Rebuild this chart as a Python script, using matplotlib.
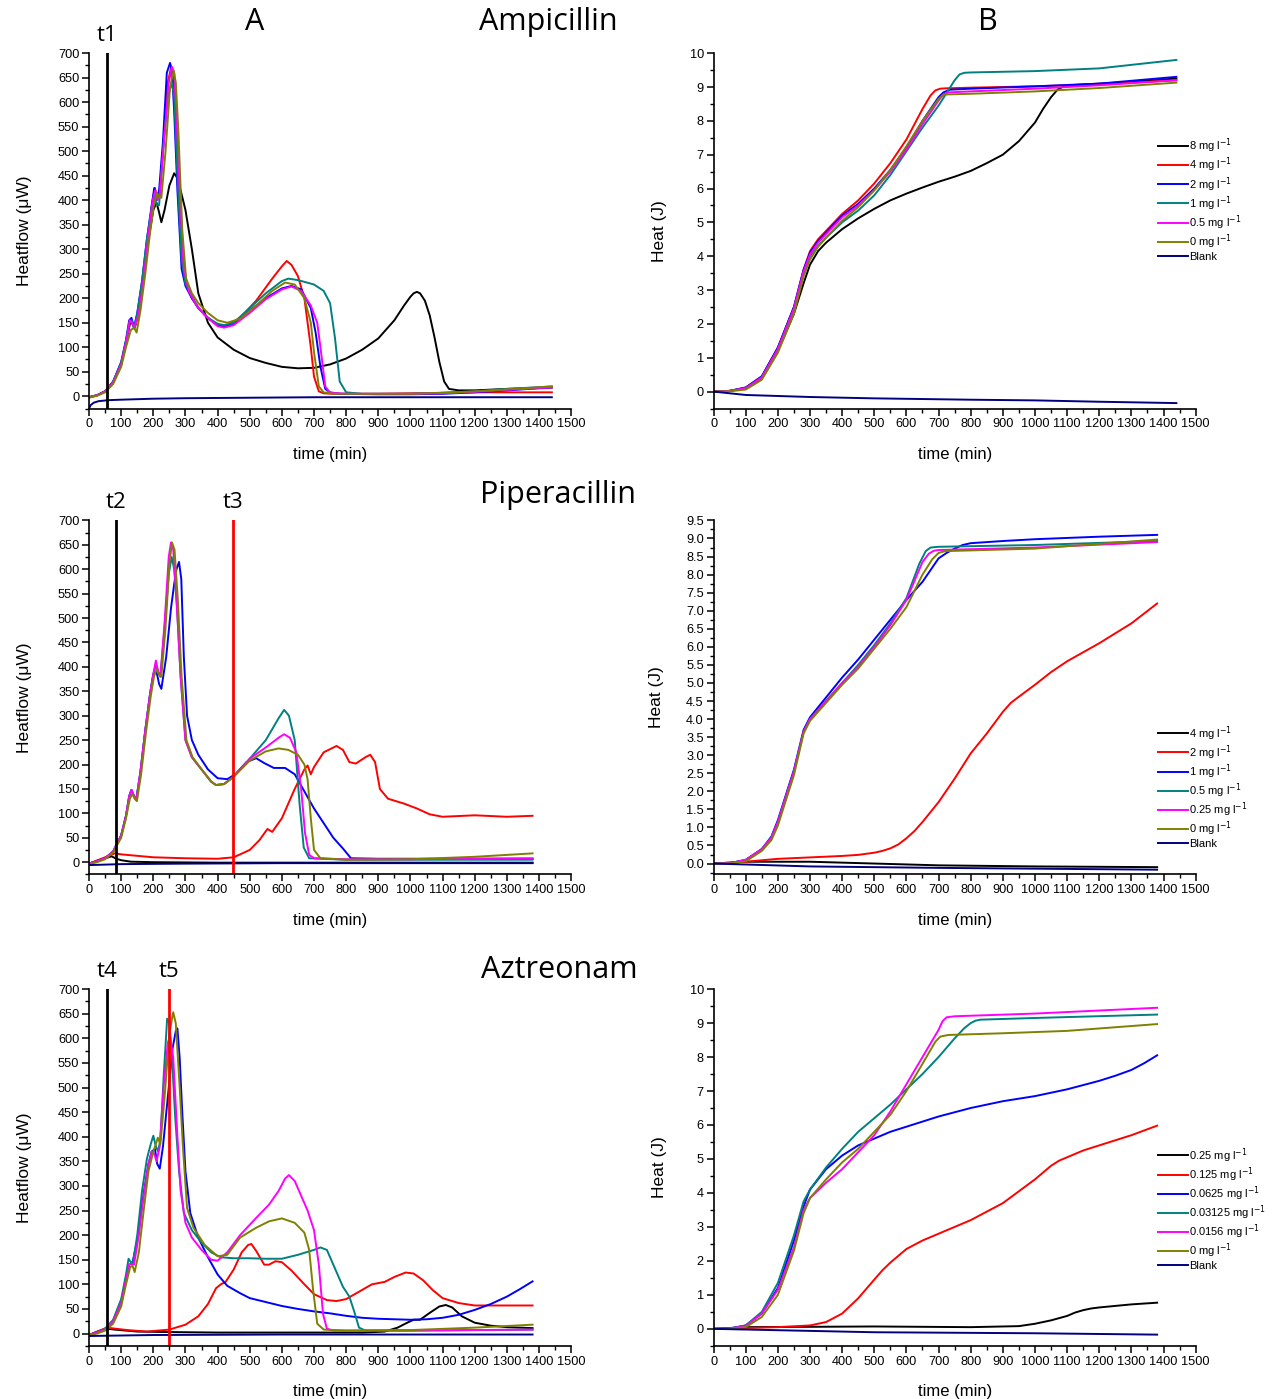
import matplotlib
matplotlib.use("Agg")
import matplotlib.pyplot as plt
from matplotlib.ticker import MultipleLocator, FormatStrFormatter

plt.rcParams['font.family'] = ['Liberation Sans', 'DejaVu Sans']

# ---------------- colours / labels ----------------
COLORS = ['#000000', '#ff0000', '#0000ff', '#008080', '#ff00ff', '#808000', '#000080']
AMP_LABELS = ['8 mg l$^{-1}$', '4 mg l$^{-1}$', '2 mg l$^{-1}$', '1 mg l$^{-1}$',
              '0.5 mg l$^{-1}$', '0 mg l$^{-1}$', 'Blank']
PIP_LABELS = ['4 mg l$^{-1}$', '2 mg l$^{-1}$', '1 mg l$^{-1}$', '0.5 mg l$^{-1}$',
              '0.25 mg l$^{-1}$', '0 mg l$^{-1}$', 'Blank']
AZT_LABELS = ['0.25 mg l$^{-1}$', '0.125 mg l$^{-1}$', '0.0625 mg l$^{-1}$',
              '0.03125 mg l$^{-1}$', '0.0156 mg l$^{-1}$', '0 mg l$^{-1}$', 'Blank']

# ---------------- Ampicillin heatflow (uW) ----------------
amp_hf_black_t = [0,25,50,75,100,115,128,135,142,155,170,185,200,210,218,225,235,250,265,275,285,300,320,340,370,400,450,500,550,600,650,700,750,800,850,900,950,980,1000,1010,1020,1030,1045,1060,1075,1090,1105,1120,1150,1200,1300,1440]
amp_hf_black_y = [-2,2,10,28,65,110,150,148,140,170,240,320,380,395,375,355,380,430,455,445,420,380,300,210,150,120,95,78,68,60,57,58,65,77,95,118,155,185,203,210,213,210,195,165,120,70,30,15,12,12,15,18]
amp_hf_red_t = [0,25,50,75,100,115,128,135,142,155,170,185,197,205,212,220,232,245,255,262,270,280,292,305,320,340,370,400,430,470,520,570,600,615,630,650,670,690,700,715,730,760,800,900,1000,1100,1200,1300,1440]
amp_hf_red_y = [-2,2,10,28,65,110,155,150,140,175,250,330,395,425,405,415,520,640,670,660,590,430,280,225,200,180,160,145,145,160,195,240,265,276,268,245,200,100,40,10,6,5,5,5,6,7,8,8,8]
amp_hf_blue_t = [0,25,50,75,100,115,125,132,140,150,165,180,195,203,210,218,230,242,252,258,265,275,288,300,320,340,370,400,420,450,500,550,600,630,660,690,705,720,735,750,780,900,1000,1100,1200,1300,1440]
amp_hf_blue_y = [-2,2,10,30,70,115,155,160,140,170,235,320,390,425,400,420,520,660,680,665,580,420,260,225,200,180,160,145,142,148,175,200,220,225,218,180,130,60,15,8,5,4,4,5,8,12,18]
amp_hf_teal_t = [0,25,50,75,100,115,125,132,140,150,165,180,195,203,210,218,230,245,258,265,275,288,300,320,340,370,400,420,450,500,550,600,620,650,700,730,750,765,780,800,850,900,1000,1100,1200,1300,1440]
amp_hf_teal_y = [-2,2,10,30,68,112,150,155,138,168,235,320,385,410,390,390,500,610,640,610,450,280,230,205,180,160,148,145,150,180,210,235,240,237,228,215,190,120,30,8,5,5,5,7,10,15,20]
amp_hf_mag_t = [0,25,50,75,100,115,127,134,142,155,170,185,198,206,213,220,232,248,258,265,272,282,295,310,330,360,400,420,450,500,550,600,630,660,690,710,720,735,750,800,900,1000,1100,1200,1300,1440]
amp_hf_mag_y = [-2,2,10,28,65,110,155,150,140,170,240,330,400,420,400,410,510,640,672,660,580,420,260,215,190,165,143,140,145,170,198,218,224,215,185,150,100,20,7,5,5,5,6,9,13,18]
amp_hf_olive_t = [0,25,50,75,100,115,130,140,148,160,175,190,203,212,218,225,238,252,263,270,278,290,302,320,340,370,400,430,470,520,570,610,640,670,690,700,715,730,760,900,1000,1100,1200,1300,1440]
amp_hf_olive_y = [-3,1,8,25,60,100,135,140,130,175,250,335,395,415,405,405,500,630,665,640,540,340,240,210,190,170,155,150,158,185,215,232,228,200,150,90,20,8,5,5,5,7,10,14,20]
amp_hf_blank_t = [0,5,15,30,60,100,200,300,500,700,1000,1200,1440]
amp_hf_blank_y = [-25,-18,-13,-10,-8,-7,-5,-4,-3,-2,-2,-2,-2]

# ---------------- Ampicillin heat (J) ----------------
amp_h_black_t = [0,50,100,150,200,250,280,300,325,350,400,450,500,550,600,650,700,750,800,850,900,950,1000,1025,1050,1070,1085,1100,1200,1300,1440]
amp_h_black_y = [0,0.02,0.1,0.4,1.2,2.3,3.2,3.75,4.15,4.4,4.8,5.12,5.4,5.65,5.85,6.03,6.2,6.35,6.52,6.75,7.0,7.4,7.95,8.35,8.7,8.92,9.0,9.05,9.1,9.15,9.25]
amp_h_red_t = [0,50,100,150,200,250,280,300,325,350,400,450,500,550,600,650,675,690,705,720,800,1000,1200,1440]
amp_h_red_y = [0,0.02,0.12,0.45,1.3,2.5,3.6,4.15,4.5,4.75,5.25,5.65,6.15,6.75,7.45,8.35,8.75,8.9,8.95,8.96,8.98,9.02,9.08,9.2]
amp_h_blue_t = [0,50,100,150,200,250,280,300,325,350,400,450,500,550,600,650,700,715,735,800,1000,1200,1440]
amp_h_blue_y = [0,0.02,0.12,0.45,1.3,2.5,3.6,4.1,4.45,4.7,5.2,5.55,6.0,6.55,7.2,8.0,8.7,8.84,8.92,8.95,9.02,9.1,9.3]
amp_h_teal_t = [0,50,100,150,200,250,280,300,325,350,400,450,500,550,600,650,700,730,750,765,780,800,1000,1200,1440]
amp_h_teal_y = [0,0.02,0.1,0.42,1.25,2.45,3.5,4.0,4.3,4.55,5.0,5.35,5.8,6.4,7.1,7.8,8.45,8.9,9.2,9.37,9.42,9.43,9.47,9.55,9.8]
amp_h_mag_t = [0,50,100,150,200,250,280,300,325,350,400,450,500,550,600,650,700,715,730,800,1000,1200,1440]
amp_h_mag_y = [0,0.02,0.1,0.42,1.25,2.45,3.55,4.05,4.4,4.65,5.15,5.5,5.95,6.5,7.15,7.9,8.6,8.78,8.84,8.87,8.95,9.05,9.2]
amp_h_olive_t = [0,50,100,150,200,250,280,300,325,350,400,450,500,550,600,650,700,712,725,800,1000,1200,1440]
amp_h_olive_y = [0,0.01,0.06,0.35,1.15,2.3,3.4,3.9,4.28,4.55,5.05,5.45,5.95,6.55,7.25,8.0,8.65,8.75,8.78,8.8,8.87,8.97,9.13]
amp_h_blank_t = [0,100,300,500,800,1000,1200,1440]
amp_h_blank_y = [0,-0.1,-0.16,-0.2,-0.24,-0.26,-0.3,-0.34]

# ---------------- Piperacillin heatflow (uW) ----------------
pip_hf_black_t = [0,30,55,70,85,100,130,200,400,1380]
pip_hf_black_y = [-3,4,9,12,7,4,1,0,-1,-1]
pip_hf_red_t = [0,50,80,100,200,300,400,450,500,530,555,570,600,640,670,680,690,700,730,770,790,810,830,860,875,890,905,930,980,1020,1060,1100,1200,1300,1380]
pip_hf_red_y = [-3,10,18,16,10,8,7,10,25,45,68,62,90,150,190,198,180,195,225,238,230,205,202,215,220,205,150,130,120,110,98,93,96,93,95]
pip_hf_blue_t = [0,25,50,75,100,115,125,132,140,147,160,175,190,200,210,218,225,240,255,265,272,280,287,295,305,320,340,370,400,430,455,490,520,545,575,610,640,670,700,730,760,790,815,900,1380]
pip_hf_blue_y = [-3,2,8,22,55,95,135,148,135,128,185,270,345,385,390,365,355,420,520,570,600,615,580,420,300,250,220,190,172,170,180,205,213,203,193,193,180,145,110,80,50,28,8,7,7]
pip_hf_teal_t = [0,25,50,75,100,115,125,132,140,147,160,175,190,200,208,215,222,235,248,257,265,274,285,300,320,350,380,395,420,450,500,550,590,607,622,640,655,668,685,800,1380]
pip_hf_teal_y = [-3,2,8,22,55,95,135,148,135,128,185,270,345,385,405,390,380,480,590,625,600,520,380,250,215,190,165,158,160,175,212,250,295,312,300,250,120,30,8,5,5]
pip_hf_mag_t = [0,25,50,75,100,115,125,132,140,147,160,175,190,200,208,215,222,235,248,255,262,272,285,300,320,350,380,395,420,450,500,550,590,607,625,645,660,672,685,700,800,1000,1380]
pip_hf_mag_y = [-3,2,8,22,55,95,135,148,135,128,185,270,345,385,413,390,380,490,625,655,640,540,380,250,215,190,165,158,160,175,212,235,255,262,255,225,150,60,15,8,6,6,8]
pip_hf_olive_t = [0,25,50,75,100,115,127,135,142,149,162,177,192,202,210,217,225,238,250,258,266,276,288,303,322,350,380,395,420,450,500,550,590,620,650,670,680,690,700,720,800,1000,1200,1380]
pip_hf_olive_y = [-4,0,6,20,50,90,130,140,130,125,180,265,340,380,395,385,380,480,610,655,640,540,380,250,215,190,165,158,160,175,208,227,233,230,220,200,170,90,25,8,5,6,11,18]
pip_hf_blank_t = [0,100,300,600,1380]
pip_hf_blank_y = [-6,-4,-3,-2,-2]

# ---------------- Piperacillin heat (J) ----------------
pip_h_black_t = [0,100,300,500,700,1000,1380]
pip_h_black_y = [0,0.05,0.05,0.0,-0.05,-0.08,-0.1]
pip_h_red_t = [0,100,200,300,400,450,500,525,550,575,600,625,650,700,750,800,850,900,925,950,1000,1050,1100,1200,1300,1380]
pip_h_red_y = [0,0.05,0.13,0.17,0.21,0.24,0.3,0.35,0.42,0.53,0.7,0.9,1.15,1.7,2.35,3.05,3.6,4.2,4.45,4.62,4.95,5.3,5.6,6.1,6.65,7.2]
pip_h_blue_t = [0,50,100,150,180,200,250,280,300,350,400,450,500,550,600,650,700,725,750,775,800,900,1000,1200,1380]
pip_h_blue_y = [0,0.01,0.1,0.4,0.75,1.2,2.6,3.7,4.05,4.6,5.15,5.65,6.2,6.75,7.3,7.8,8.45,8.6,8.72,8.82,8.87,8.93,8.98,9.05,9.1]
pip_h_teal_t = [0,50,100,150,180,200,250,280,300,350,400,450,500,550,600,640,660,675,700,1000,1380]
pip_h_teal_y = [0,0.01,0.1,0.4,0.72,1.15,2.55,3.65,4.0,4.5,5.0,5.5,6.05,6.65,7.35,8.3,8.65,8.75,8.77,8.82,8.93]
pip_h_mag_t = [0,50,100,150,180,200,250,280,300,350,400,450,500,550,600,650,670,685,700,1000,1380]
pip_h_mag_y = [0,0.01,0.1,0.4,0.72,1.15,2.55,3.65,4.0,4.5,5.0,5.45,6.0,6.6,7.3,8.35,8.58,8.66,8.68,8.75,8.9]
pip_h_olive_t = [0,50,100,150,180,200,250,280,300,350,400,450,500,550,600,650,680,700,720,1000,1380]
pip_h_olive_y = [0,0.0,0.06,0.35,0.65,1.05,2.45,3.6,3.95,4.45,4.95,5.4,5.95,6.5,7.1,8.0,8.42,8.6,8.65,8.72,8.97]
pip_h_blank_t = [0,300,700,1380]
pip_h_blank_y = [0,-0.08,-0.12,-0.17]

# ---------------- Aztreonam heatflow (uW) ----------------
azt_hf_black_t = [0,30,55,80,150,250,400,700,850,920,960,990,1010,1030,1060,1090,1110,1130,1160,1200,1250,1300,1380]
azt_hf_black_y = [-3,5,10,8,4,3,2,2,2,4,12,22,28,28,42,55,58,53,35,22,16,13,11]
azt_hf_red_t = [0,30,55,80,120,180,250,300,340,370,395,410,425,450,475,495,505,520,545,560,580,600,630,670,700,740,770,800,840,880,920,950,985,1010,1040,1070,1100,1150,1200,1300,1380]
azt_hf_red_y = [-3,5,12,10,7,4,8,18,35,60,92,100,105,130,165,180,182,168,140,140,147,145,128,100,80,68,66,70,85,100,105,115,124,122,108,88,72,62,57,57,57]
azt_hf_blue_t = [0,25,50,75,100,115,125,135,150,170,185,195,205,212,220,230,245,260,270,275,282,290,300,315,340,370,400,430,470,500,550,600,650,700,750,800,850,900,1000,1050,1100,1150,1200,1250,1300,1340,1380]
azt_hf_blue_y = [-3,2,9,26,65,110,140,143,190,285,345,370,375,345,335,380,480,580,615,620,560,450,330,245,195,155,120,97,82,72,64,56,50,45,41,36,32,30,28,29,32,38,48,60,75,90,106]
azt_hf_teal_t = [0,25,50,75,100,115,123,130,137,150,165,180,192,200,208,215,222,232,243,250,258,268,280,295,320,350,380,410,450,500,550,600,650,700,720,740,760,790,810,825,840,860,1000,1380]
azt_hf_teal_y = [-3,2,10,28,70,120,152,145,145,200,290,355,385,402,380,370,395,520,640,630,560,440,330,245,210,185,165,155,153,153,152,152,160,170,175,170,140,95,75,45,12,6,6,8]
azt_hf_mag_t = [0,25,50,75,100,115,125,132,140,155,170,185,195,203,210,220,232,245,252,262,275,285,300,320,350,380,400,430,470,520,560,590,610,622,640,660,680,700,715,728,740,760,1000,1380]
azt_hf_mag_y = [-3,2,8,25,62,110,140,142,140,200,280,345,370,365,350,380,500,590,605,560,400,290,225,195,170,150,148,165,200,235,262,290,315,322,310,280,250,210,140,40,10,6,6,8]
azt_hf_olive_t = [0,25,50,75,100,115,128,135,142,155,170,185,200,208,214,222,235,250,262,270,282,292,305,325,360,400,430,470,520,560,600,640,670,685,697,710,730,800,1000,1200,1380]
azt_hf_olive_y = [-4,0,6,20,55,100,135,138,125,165,250,330,370,385,398,385,480,610,653,630,500,380,255,215,180,157,160,195,215,228,234,225,205,170,90,20,8,6,7,12,18]
azt_hf_blank_t = [0,200,600,1380]
azt_hf_blank_y = [-5,-3,-2,-2]

# ---------------- Aztreonam heat (J) ----------------
azt_h_black_t = [0,100,500,800,950,1000,1050,1100,1125,1150,1175,1200,1300,1380]
azt_h_black_y = [0,0.05,0.07,0.05,0.08,0.15,0.25,0.38,0.48,0.55,0.6,0.63,0.72,0.77]
azt_h_red_t = [0,200,300,350,400,450,500,525,550,600,650,700,750,800,850,900,950,1000,1050,1075,1100,1150,1200,1300,1380]
azt_h_red_y = [0,0.05,0.1,0.2,0.45,0.9,1.45,1.72,1.95,2.35,2.6,2.8,3.0,3.2,3.45,3.7,4.05,4.4,4.8,4.95,5.05,5.25,5.4,5.7,5.98]
azt_h_blue_t = [0,50,100,150,200,250,280,300,350,400,450,500,550,600,700,800,900,1000,1100,1200,1250,1300,1340,1380]
azt_h_blue_y = [0,0.01,0.1,0.45,1.2,2.6,3.6,4.1,4.7,5.1,5.4,5.6,5.8,5.95,6.25,6.5,6.7,6.85,7.05,7.3,7.45,7.62,7.82,8.05]
azt_h_teal_t = [0,50,100,150,200,250,280,300,350,400,450,500,550,600,650,700,750,780,800,815,830,1000,1380]
azt_h_teal_y = [0,0.01,0.1,0.5,1.35,2.75,3.75,4.1,4.75,5.3,5.8,6.2,6.6,7.05,7.5,8.0,8.55,8.85,9.0,9.07,9.1,9.15,9.25]
azt_h_mag_t = [0,50,100,150,200,250,280,300,350,400,450,500,550,600,650,700,712,725,750,1000,1380]
azt_h_mag_y = [0,0.01,0.08,0.45,1.15,2.4,3.5,3.85,4.3,4.7,5.2,5.7,6.4,7.2,8.0,8.8,9.05,9.17,9.2,9.28,9.45]
azt_h_olive_t = [0,50,100,150,200,250,280,300,350,400,450,500,550,600,650,690,705,730,900,1100,1380]
azt_h_olive_y = [0,0.0,0.05,0.35,1.0,2.3,3.4,3.85,4.4,4.9,5.3,5.8,6.3,7.0,7.8,8.45,8.6,8.65,8.7,8.77,8.97]
azt_h_blank_t = [0,500,1000,1380]
azt_h_blank_y = [0,-0.1,-0.13,-0.17]

# ---------------- marked time points ----------------
T_LINES_AMP = [('t1', 56, '#000000')]
T_LINES_PIP = [('t2', 84, '#000000'), ('t3', 448, '#ff0000')]
T_LINES_AZT = [('t4', 56, '#000000'), ('t5', 249, '#ff0000')]

X_TICKS = list(range(0, 1501, 100))

fig = plt.figure(figsize=(12.72, 13.99), dpi=100)

W = 0.379
LEFT_X, RIGHT_X = 0.070, 0.561
ROWS = [(0.708, 0.254), (0.375, 0.253), (0.038, 0.255)]


def style(ax, ylim, ymaj, ymin):
    ax.set_xlim(0, 1500)
    ax.set_ylim(*ylim)
    for s in ('top', 'right'):
        ax.spines[s].set_visible(False)
    for s in ('left', 'bottom'):
        ax.spines[s].set_linewidth(1.2)
    ax.set_xticks(X_TICKS)
    ax.xaxis.set_minor_locator(MultipleLocator(50))
    ax.yaxis.set_major_locator(MultipleLocator(ymaj))
    ax.yaxis.set_minor_locator(MultipleLocator(ymin))
    ax.tick_params(which='major', direction='out', length=5, width=1.1, labelsize=9.2, pad=2)
    ax.tick_params(which='minor', direction='out', length=3, width=1.0)
    ax.set_xlabel('time (min)', fontsize=12, labelpad=12)


def plot_set(ax, curves, labels=None):
    for i, (t, y) in enumerate(curves):
        ax.plot(t, y, color=COLORS[i], lw=1.4, label=None if labels is None else labels[i])


hf_sets = [
    [(amp_hf_black_t, amp_hf_black_y), (amp_hf_red_t, amp_hf_red_y), (amp_hf_blue_t, amp_hf_blue_y),
     (amp_hf_teal_t, amp_hf_teal_y), (amp_hf_mag_t, amp_hf_mag_y), (amp_hf_olive_t, amp_hf_olive_y),
     (amp_hf_blank_t, amp_hf_blank_y)],
    [(pip_hf_black_t, pip_hf_black_y), (pip_hf_red_t, pip_hf_red_y), (pip_hf_blue_t, pip_hf_blue_y),
     (pip_hf_teal_t, pip_hf_teal_y), (pip_hf_mag_t, pip_hf_mag_y), (pip_hf_olive_t, pip_hf_olive_y),
     (pip_hf_blank_t, pip_hf_blank_y)],
    [(azt_hf_black_t, azt_hf_black_y), (azt_hf_red_t, azt_hf_red_y), (azt_hf_blue_t, azt_hf_blue_y),
     (azt_hf_teal_t, azt_hf_teal_y), (azt_hf_mag_t, azt_hf_mag_y), (azt_hf_olive_t, azt_hf_olive_y),
     (azt_hf_blank_t, azt_hf_blank_y)],
]
h_sets = [
    [(amp_h_black_t, amp_h_black_y), (amp_h_red_t, amp_h_red_y), (amp_h_blue_t, amp_h_blue_y),
     (amp_h_teal_t, amp_h_teal_y), (amp_h_mag_t, amp_h_mag_y), (amp_h_olive_t, amp_h_olive_y),
     (amp_h_blank_t, amp_h_blank_y)],
    [(pip_h_black_t, pip_h_black_y), (pip_h_red_t, pip_h_red_y), (pip_h_blue_t, pip_h_blue_y),
     (pip_h_teal_t, pip_h_teal_y), (pip_h_mag_t, pip_h_mag_y), (pip_h_olive_t, pip_h_olive_y),
     (pip_h_blank_t, pip_h_blank_y)],
    [(azt_h_black_t, azt_h_black_y), (azt_h_red_t, azt_h_red_y), (azt_h_blue_t, azt_h_blue_y),
     (azt_h_teal_t, azt_h_teal_y), (azt_h_mag_t, azt_h_mag_y), (azt_h_olive_t, azt_h_olive_y),
     (azt_h_blank_t, azt_h_blank_y)],
]
t_lines = [T_LINES_AMP, T_LINES_PIP, T_LINES_AZT]
labels = [AMP_LABELS, PIP_LABELS, AZT_LABELS]
h_ylims = [((-0.5, 10), 1, 0.5), ((-0.3, 9.5), 0.5, 0.25), ((-0.5, 10), 1, 0.5)]
legend_y = [0.765, 0.425, 0.56]
names = ['Ampicillin', 'Piperacillin', 'Aztreonam']
name_x = [0.431, 0.439, 0.440]
name_y = [0.984, 0.646, 0.307]
TFONT = ['Open Sans', 'DejaVu Sans']

for r, (bottom, height) in enumerate(ROWS):
    axl = fig.add_axes([LEFT_X, bottom, W, height])
    plot_set(axl, hf_sets[r])
    for lab, x, c in t_lines[r]:
        axl.axvline(x, color=c, lw=2.0)
        axl.annotate(lab, xy=(x, 1.05), xycoords=('data', 'axes fraction'),
                     ha='center', va='center', fontsize=16, family=TFONT)
    style(axl, (-25, 700), 50, 25)
    axl.set_ylabel('Heatflow (\u03bcW)', fontsize=12.5, labelpad=19)

    axr = fig.add_axes([RIGHT_X, bottom, W, height])
    plot_set(axr, h_sets[r], labels[r])
    ylim, ymaj, ymin = h_ylims[r]
    style(axr, ylim, ymaj, ymin)
    if r == 1:
        axr.yaxis.set_major_formatter(FormatStrFormatter('%.1f'))
    axr.set_ylabel('Heat (J)', fontsize=12.5, labelpad=16)
    axr.legend(loc='upper left', bbox_to_anchor=(0.922, legend_y[r]), frameon=False,
               fontsize=8, handlelength=2.7, handletextpad=0.1, labelspacing=0.05,
               borderaxespad=0, borderpad=0)

    fig.text(name_x[r], name_y[r], names[r], ha='center', va='center',
             fontsize=22, family=TFONT)

fig.text(0.2005, 0.984, 'A', ha='center', va='center', fontsize=22, family=TFONT)
fig.text(0.777, 0.984, 'B', ha='center', va='center', fontsize=22, family=TFONT)

fig.savefig('out.png', dpi=100)
